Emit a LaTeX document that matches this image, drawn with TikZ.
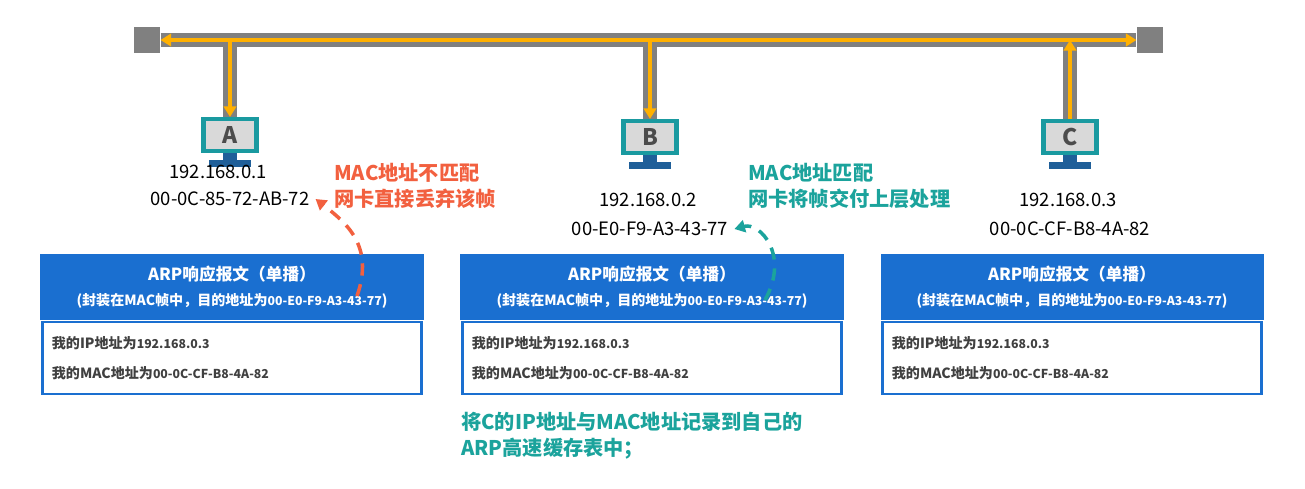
\documentclass[tikz,border=0pt]{standalone}
\usepackage{fontspec}
\setmainfont{Noto Sans CJK SC}
\usetikzlibrary{arrows.meta}
\definecolor{busgray}{HTML}{808080}
\definecolor{flow}{HTML}{FFB000}
\definecolor{scr}{HTML}{1A9AA0}
\definecolor{stand}{HTML}{1F5F99}
\definecolor{hdr}{HTML}{1A6FD0}
\definecolor{warn}{HTML}{F2603F}
\definecolor{okc}{HTML}{1BA39C}
\begin{document}
\begin{tikzpicture}[x=0.02cm,y=-0.02cm]
        \tikzstyle{bus} = [line width=8pt, draw=busgray]
        \tikzstyle{signal} = [line width=2.2pt, draw=flow, -{Triangle[length=6pt,width=7pt]}]
        \tikzstyle{endcap} = [fill=busgray, minimum size=15pt, inner sep=0pt]
        \tikzstyle{screen} = [rectangle, draw=scr, line width=2.5pt, fill=gray!30, minimum width=30pt, minimum height=18pt, font=\bfseries\fontsize{13}{13}\selectfont, text=black!70]
        \tikzstyle{addr} = [font=\fontsize{10.5}{12}\selectfont]
        \tikzstyle{head} = [rectangle, fill=hdr, text=white, minimum width=218pt, minimum height=38pt, align=center, font=\bfseries\fontsize{9.5}{17}\selectfont]
        \tikzstyle{body} = [rectangle, draw=hdr, line width=1.5pt, minimum width=216pt, minimum height=41pt, align=left, text width=205pt, font=\bfseries\fontsize{8}{17}\selectfont, text=black!75]
        \tikzstyle{note} = [align=left, anchor=west, font=\bfseries\fontsize{11.5}{15}\selectfont]
        \tikzstyle{hint} = [dashed, line width=2pt, dash pattern=on 7pt off 5pt, -{Triangle[length=6pt,width=7pt]}]

                \useasboundingbox (0,0) rectangle (1305,488);

                % bus
                \node (lcap) [endcap] at (147,40) {};
                \node (rcap) [endcap] at (1150,40) {};
                \coordinate (ja) at (230,40);
                \coordinate (jb) at (650,40);
                \coordinate (jc) at (1070,40);
                \draw[bus] (lcap) -- (rcap);

                % hosts
                \node (pcA) [screen] at (230,135) {A};
                \node (pcB) [screen] at (650,137) {B};
                \node (pcC) [screen] at (1070,137) {C};
                \foreach \p in {pcA,pcB,pcC} {
                    \fill[stand] ([xshift=-4pt]\p.south) rectangle ([xshift=4pt,yshift=-4pt]\p.south);
                    \fill[stand] ([xshift=-12pt,yshift=-4pt]\p.south) rectangle ([xshift=12pt,yshift=-8pt]\p.south);
                }
                \draw[bus] (ja) -- (pcA.north);
                \draw[bus] (jb) -- (pcB.north);
                \draw[bus] (jc) -- (pcC.north);

                % frame on the bus
                \draw[signal] (pcC.north) -- (jc);
                \draw[signal] (jc) -- (lcap.east);
                \draw[signal] (jc) -- (rcap.west);
                \draw[signal] (ja) -- (pcA.north);
                \draw[signal] (jb) -- (pcB.north);

                % addresses
                \node (ipA) [addr] at (218,172) {192.168.0.1};
                \node (macA) [addr] at (230,199) {00-0C-85-72-AB-72};
                \node (ipB) [addr] at (648,200) {192.168.0.2};
                \node (macB) [addr] at (650,229) {00-E0-F9-A3-43-77};
                \node (ipC) [addr] at (1068,200) {192.168.0.3};
                \node (macC) [addr] at (1070,229) {00-0C-CF-B8-4A-82};

                % replies
                \foreach \n/\cx in {A/232,B/652,C/1072} {
                    \node (hd\n) [head] at (\cx,287) {ARP响应报文（单播）\\[-3pt]{\fontsize{8}{10}\selectfont(封装在MAC帧中，目的地址为{\fontsize{7}{10}\selectfont00-E0-F9-A3-43-77})}};
                    \node (bd\n) [body, anchor=north] at (hd\n.south) {我的IP地址为{\fontsize{7}{10}\selectfont192.168.0.3}\\我的MAC地址为{\fontsize{7}{10}\selectfont00-0C-CF-B8-4A-82}};
                }

                % notes
                \node (noA) [note, text=warn] at (328,186) {MAC地址不匹配\\网卡直接丢弃该帧};
                \node (noB) [note, text=okc] at (742,186) {MAC地址匹配\\网卡将帧交付上层处理};
                \node (noS) [note, text=okc] at (455,436) {将C的IP地址与MAC地址记录到自己的\\ARP高速缓存表中；};
                \coordinate (dA) at (357,296);
                \coordinate (dB) at (765,300);
                \draw[hint, warn] (dA) .. controls (375,245) and (345,222) .. (macA.east);
                \draw[hint, okc] (dB) .. controls (790,255) and (760,222) .. (macB.east);
    \end{tikzpicture}
\end{document}
